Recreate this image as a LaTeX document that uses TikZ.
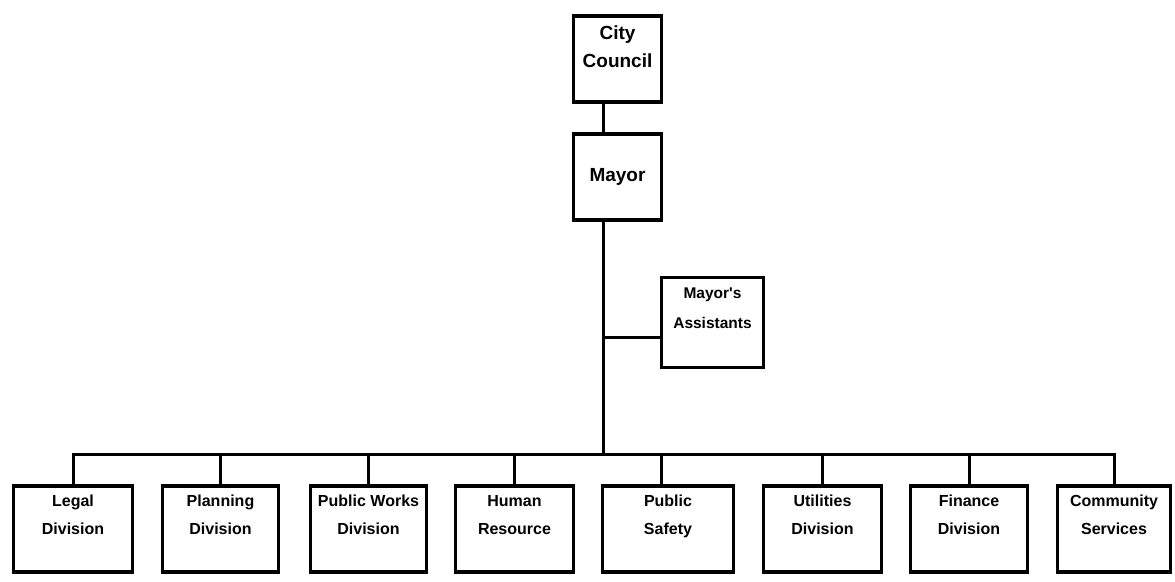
\documentclass[tikz,border=0pt]{standalone}
\usepackage{fontspec}
\setmainfont{Liberation Sans}
\usetikzlibrary{positioning, calc}

\tikzset{
    unit/.style={rectangle, draw, line width=3.2pt, inner sep=0pt, minimum height=86pt,
        font=\bfseries\fontsize{16}{19}\selectfont,
        execute at begin node={\renewcommand{\arraystretch}{1.5}}},
    head/.style={unit, minimum width=88pt, font=\bfseries\fontsize{19}{22.8}\selectfont,
        execute at begin node={\renewcommand{\arraystretch}{1.23}}},
    link/.style={line width=3pt},
}

\begin{document}
\begin{tikzpicture}[x=1pt, y=1pt]
    \useasboundingbox (0, 0) rectangle (1175, 581);

    % top of the chart
    \node[head] (council) at (617.5, 522) {\begin{tabular}{c}
        City \\ Council \\[-6pt] \mbox{} \\
        \end{tabular}};
    \node[head] (mayor) at (617.5, 404) {Mayor};
    \node[unit, minimum width=102pt, font=\bfseries\fontsize{15.5}{18.6}\selectfont,
        execute at begin node={\renewcommand{\arraystretch}{1.6}}] (assist) at (712.5, 258.5) {\begin{tabular}{c}
        Mayor\textquotesingle s \\ Assistants \\ \mbox{} \\
        \end{tabular}};

    % divisions
    \node[unit, minimum width=119pt] (legal) at (73, 52) {\begin{tabular}{c}
        Legal \\ Division \\ \mbox{} \\
        \end{tabular}};
    \node[unit, minimum width=116pt] (planning) at (220.5, 52) {\begin{tabular}{c}
        Planning \\ Division \\ \mbox{} \\
        \end{tabular}};
    \node[unit, minimum width=116pt] (works) at (368.5, 52) {\begin{tabular}{c}
        Public Works \\ Division \\ \mbox{} \\
        \end{tabular}};
    \node[unit, minimum width=118pt] (human) at (514.5, 52) {\begin{tabular}{c}
        Human \\ Resource \\ \mbox{} \\
        \end{tabular}};
    \node[unit, minimum width=131pt] (safety) at (668, 52) {\begin{tabular}{c}
        Public \\ Safety \\ \mbox{} \\
        \end{tabular}};
    \node[unit, minimum width=118pt] (utilities) at (822.5, 52) {\begin{tabular}{c}
        Utilities \\ Division \\ \mbox{} \\
        \end{tabular}};
    \node[unit, minimum width=117pt] (finance) at (969, 52) {\begin{tabular}{c}
        Finance \\ Division \\ \mbox{} \\
        \end{tabular}};
    \node[unit, minimum width=113pt] (community) at (1114, 52) {\begin{tabular}{c}
        Community \\ Services \\ \mbox{} \\
        \end{tabular}};

    % connectors
    \coordinate (bus) at (603, 126);
    \coordinate (tap) at ($(assist.west)+(0, -15)$);
    \draw[link] (council.south -| bus) -- (mayor.north -| bus);
    \draw[link] (mayor.south -| bus) -- (bus);
    \draw[link] (tap) -- (tap -| bus);
    \draw[link] (legal.north) -- (legal.north |- bus) -- (community.north |- bus) -- (community.north);
    \foreach \d in {planning, works, human, utilities, finance}
        \draw[link] (\d.north) -- (\d.north |- bus);
    \draw[link] ($(safety.north)+(-7, 0)$) -- ($(safety.north |- bus)+(-7, 0)$);
\end{tikzpicture}
\end{document}
